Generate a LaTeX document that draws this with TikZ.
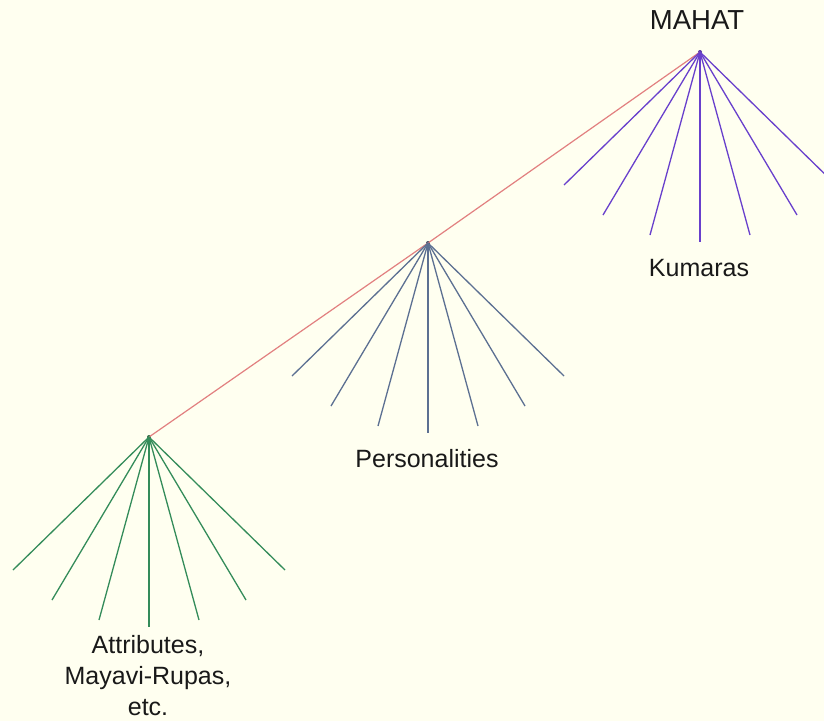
\documentclass[tikz,border=0pt]{standalone}
\usepackage{fontspec}
\setmainfont{Liberation Sans}
\usetikzlibrary{calc}
\definecolor{bg}{RGB}{255,255,240}
\definecolor{redline}{RGB}{226,128,128}
\definecolor{purp}{RGB}{104,64,204}
\definecolor{bluegray}{RGB}{92,112,146}
\definecolor{greenl}{RGB}{52,140,90}
\tikzset{
  lbl/.style={font=\fontsize{25}{31}\selectfont, text=black!90, align=center, inner sep=0pt},
  apex/.style={circle, inner sep=0pt, minimum size=4pt},
  ray/.style={line width=1.3pt},
}
\begin{document}
\begin{tikzpicture}[x=1pt,y=-1pt]
\fill[bg] (0,0) rectangle (824,721);
\useasboundingbox (0,0) rectangle (824,721);
\clip (0,0) rectangle (824,721);
% apexes
\node[apex, fill=purp!80!black] (mahat) at (700,52) {};
\node[apex, fill=bluegray!70!black] (pers) at (428,243) {};
\node[apex, fill=greenl!80!black] (attr) at (149,437) {};
% spine
\draw[redline, line width=1.2pt] (attr.center) -- (pers.center) -- (mahat.center);
% rays
\foreach \n/\c in {mahat/purp, pers/bluegray, attr/greenl}{
  \foreach \i/\dx/\dy in {1/-136/133, 2/-97/163, 3/-50/183, 4/0/190, 5/50/183, 6/97/163, 7/136/133}{
    \coordinate (\n-e\i) at ($(\n.center)+(\dx,\dy)$);
    \draw[ray, \c] (\n.center) -- (\n-e\i);
  }
}
% labels
\node[lbl, font=\fontsize{27.5}{32}\selectfont] (tmahat) at (697,20) {MAHAT};
\node[lbl] (tkum) at (699,268) {Kumaras};
\node[lbl] (tpers) at (427,459) {Personalities};
\node[lbl] (tattr) at (148,676) {Attributes,\\Mayavi-Rupas,\\etc.};
\end{tikzpicture}
\end{document}
